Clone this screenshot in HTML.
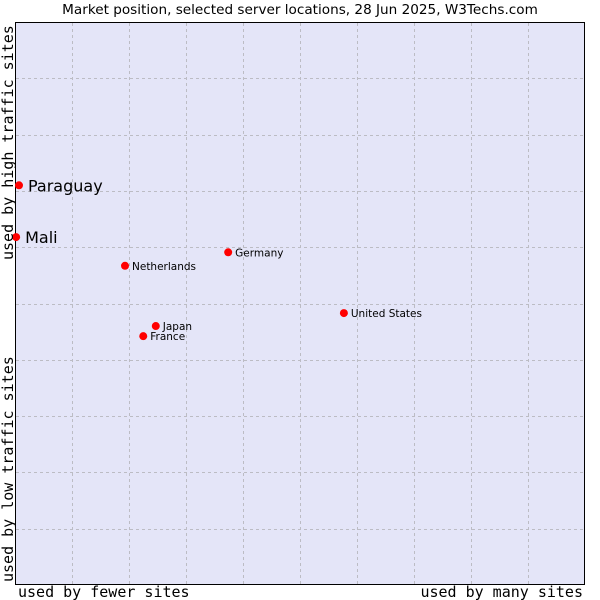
<!DOCTYPE html>
<html><head><meta charset="utf-8"><style>
html,body{margin:0;padding:0;background:#fff;}
svg{display:block;}
</style></head><body>
<svg id="chart" width="600" height="600" xmlns="http://www.w3.org/2000/svg">
<text x="300" y="14" text-anchor="middle" font-family="DejaVu Sans, sans-serif" font-size="13.6" fill="#000">Market position, selected server locations, 28 Jun 2025, W3Techs.com</text>
<rect x="15.5" y="22.5" width="569" height="562" fill="#e4e5f8" stroke="#000" stroke-width="1"/>
<g id="grid"></g>
<g id="points"></g>
<text x="18" y="597" font-family="DejaVu Sans Mono, monospace" font-size="15" fill="#000">used by fewer sites</text>
<text x="583" y="597" text-anchor="end" font-family="DejaVu Sans Mono, monospace" font-size="15" fill="#000">used by many sites</text>
<text transform="translate(13,582) rotate(-90)" font-family="DejaVu Sans Mono, monospace" font-size="15" fill="#000">used by low traffic sites</text>
<text transform="translate(13,260) rotate(-90)" font-family="DejaVu Sans Mono, monospace" font-size="15" fill="#000">used by high traffic sites</text>
</svg>
<script>
const countries=["Paraguay","Mali","Netherlands","Germany","United States","Japan","France"];
const xValues=[0.07,0.02,1.93,3.74,5.77,2.47,2.25];
const yValues=[7.1,6.18,5.67,5.91,4.83,4.6,4.42];
const labelSizes=[16,16,10.5,10.5,10.5,10.5,10.5];
const NS="http://www.w3.org/2000/svg";
const X0=15,X1=585,Y0=585,Y1=22;
function sx(v){return X0+v*(X1-X0)/10;}
function sy(v){return Y0-v*(Y0-Y1)/10;}
const grid=document.getElementById('grid');
for(let i=1;i<10;i++){
  let l=document.createElementNS(NS,'line');
  l.setAttribute('x1',Math.round(sx(i))+.5);l.setAttribute('x2',Math.round(sx(i))+.5);
  l.setAttribute('y1',Y1+1);l.setAttribute('y2',Y0);
  l.setAttribute('stroke','#bcbcc4');l.setAttribute('stroke-dasharray','3,3');
  
  
  grid.appendChild(l);
  let h=document.createElementNS(NS,'line');
  h.setAttribute('y1',Math.round(sy(i))+.5);h.setAttribute('y2',Math.round(sy(i))+.5);
  h.setAttribute('x1',X0+1);h.setAttribute('x2',X1);
  h.setAttribute('stroke','#bcbcc4');h.setAttribute('stroke-dasharray','3,3');
  
  
  grid.appendChild(h);
}
const pts=document.getElementById('points');
countries.forEach((c,i)=>{
  const x=sx(xValues[i]),y=sy(yValues[i]);
  let p=document.createElementNS(NS,'circle');
  p.setAttribute('cx',x);p.setAttribute('cy',y);p.setAttribute('r',4);p.setAttribute('fill','#f00');
  
  
  pts.appendChild(p);
  let t=document.createElementNS(NS,'text');
  const big=labelSizes[i]>12;
  t.setAttribute('x',x+(big?9:7));t.setAttribute('y',y+(big?6:4));
  t.setAttribute('font-family','DejaVu Sans, sans-serif');t.setAttribute('font-size',labelSizes[i]);
  t.textContent=c;
  
  
  pts.appendChild(t);
});
</script>
</body></html>
